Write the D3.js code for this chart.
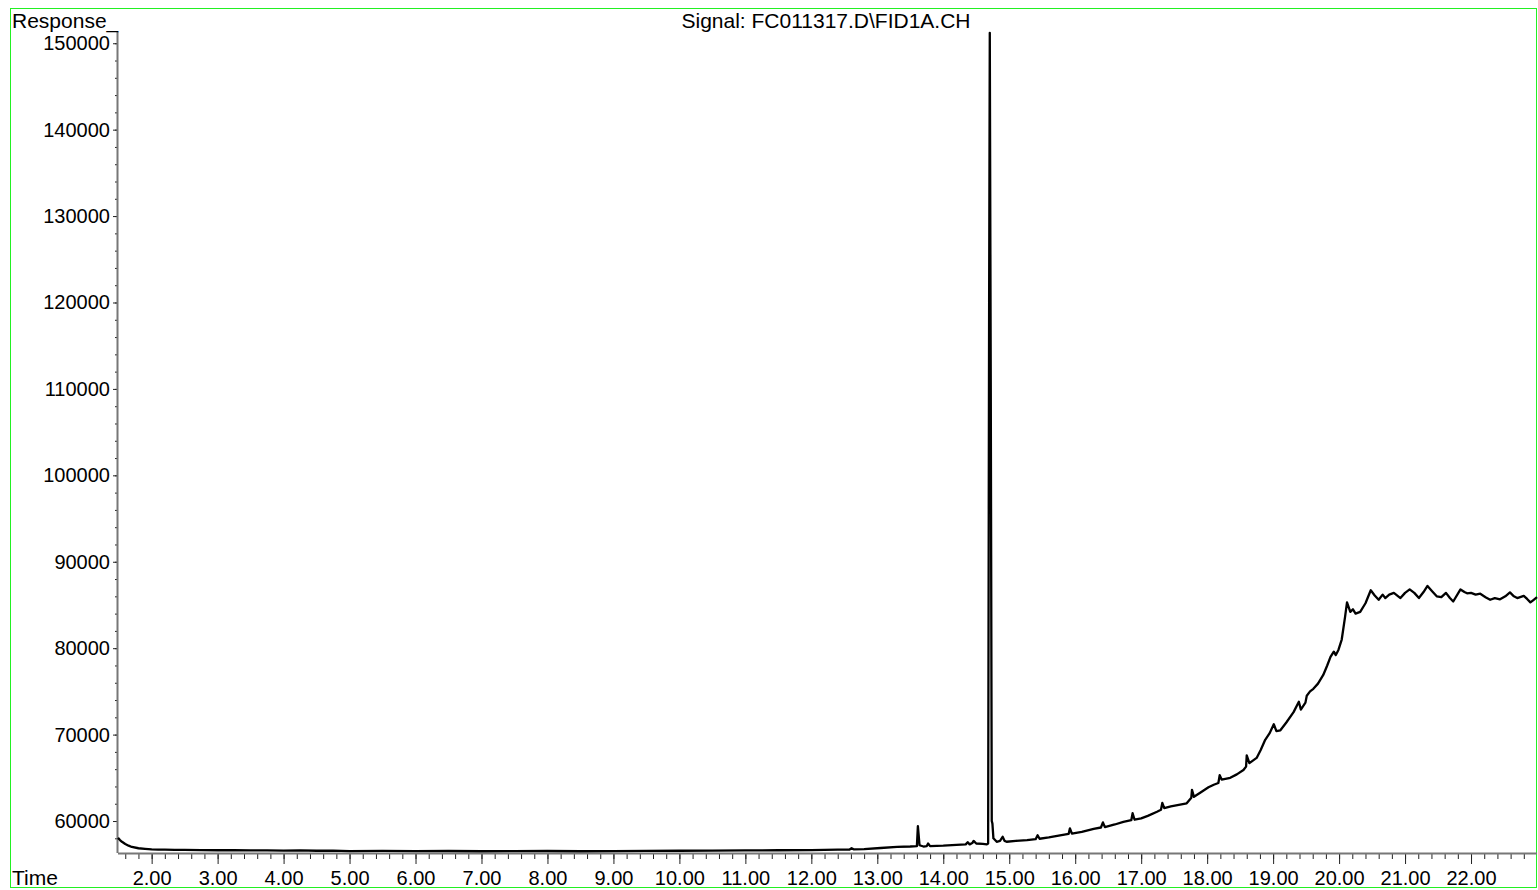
<!DOCTYPE html>
<html>
<head>
<meta charset="utf-8">
<script src="https://cdn.jsdelivr.net/npm/d3@7"></script>
<style>
body { margin: 0; background: #fff; }
text { font-family: "Liberation Sans", Arial, sans-serif; }
</style>
</head>
<body>
<div class="chart"></div>
<script>
var width = 1538;
var height = 890;

// chromatogram: retention time (min) and detector response
var times = [
  1.49, 1.52, 1.55, 1.60, 1.65, 1.70, 1.80, 1.90, 2.00, 2.10, 2.20, 2.35, 2.50, 2.75, 3.00, 3.25, 3.50, 3.75,
  4.00, 4.25, 4.50, 4.75, 5.00, 5.50, 6.00, 6.50, 7.00, 7.50, 8.00, 8.50, 9.00, 9.50, 10.00, 10.50,
  11.00, 11.50, 12.00, 12.40, 12.58, 12.61, 12.64, 12.80, 13.05, 13.30, 13.50, 13.60, 13.615, 13.64,
  13.70, 13.75, 13.77, 13.80, 14.00, 14.20, 14.34, 14.37, 14.40, 14.44, 14.46, 14.50, 14.60, 14.66,
  14.68, 14.695, 14.705, 14.72, 14.735, 14.745, 14.76, 14.81, 14.86, 14.90, 14.93, 14.96, 15.10,
  15.27, 15.40, 15.43, 15.46, 15.60, 15.77, 15.90, 15.92, 15.95, 16.10, 16.28, 16.39, 16.42, 16.45,
  16.60, 16.73, 16.85, 16.87, 16.90, 17.00, 17.10, 17.24, 17.30, 17.32, 17.35, 17.45, 17.55, 17.69,
  17.76, 17.77, 17.80, 17.90, 18.02, 18.10, 18.17, 18.19, 18.22, 18.35, 18.45, 18.55, 18.59, 18.60,
  18.64, 18.75, 18.81, 18.88, 18.95, 19.01, 19.05, 19.11, 19.20, 19.31, 19.39, 19.42, 19.49, 19.51,
  19.56, 19.61, 19.68, 19.76, 19.82, 19.87, 19.92, 19.95, 19.99, 20.04, 20.09, 20.12, 20.17, 20.21,
  20.25, 20.32, 20.40, 20.48, 20.54, 20.60, 20.66, 20.70, 20.76, 20.83, 20.93, 21.00, 21.07, 21.14,
  21.21, 21.28, 21.34, 21.41, 21.48, 21.55, 21.62, 21.68, 21.73, 21.84, 21.90, 21.94, 22.00, 22.07,
  22.14, 22.22, 22.29, 22.36, 22.44, 22.52, 22.59, 22.65, 22.70, 22.80, 22.85, 22.90, 22.95, 23.00
];
var response = [
  58050, 57800, 57600, 57350, 57150, 57000, 56850, 56780, 56720, 56700, 56680, 56660, 56650, 56640, 56620, 56640, 56600, 56610,
  56580, 56600, 56560, 56570, 56520, 56540, 56510, 56530, 56500, 56520, 56530, 56500, 56520, 56550, 56560, 56580,
  56600, 56620, 56640, 56680, 56700, 56850, 56720, 56760, 56880, 57000, 57050, 57100, 59400, 57200,
  57050, 57100, 57400, 57100, 57150, 57250, 57300, 57550, 57300, 57450, 57700, 57400, 57350, 57300,
  57400, 120000, 151200, 110000, 60000, 59700, 58000, 57600, 57700, 58180, 57700, 57600, 57700,
  57800, 57900, 58350, 57950, 58100, 58350, 58500, 59150, 58550, 58750, 59100, 59250, 59850, 59300,
  59600, 59900, 60100, 60900, 60150, 60300, 60600, 61080, 61300, 62100, 61500, 61700, 61850, 62050,
  62700, 63600, 62800, 63300, 63900, 64200, 64400, 65300, 64800, 65000, 65400, 65900, 66300, 67600,
  66700, 67300, 68200, 69400, 70200, 71200, 70400, 70500, 71400, 72600, 73800, 72900, 73700, 74500,
  75000, 75300, 75900, 76900, 78000, 79000, 79600, 79200, 79800, 81000, 83600, 85300, 84200, 84500,
  84000, 84200, 85200, 86700, 86100, 85600, 86200, 85800, 86200, 86400, 85800, 86400, 86800, 86400,
  85800, 86500, 87200, 86600, 86000, 85900, 86400, 85800, 85400, 86800, 86500, 86350, 86400, 86200,
  86300, 85900, 85600, 85800, 85650, 86000, 86450, 86000, 85800, 86050, 85700, 85300, 85600, 85900
];

var yMajor = [60000, 70000, 80000, 90000, 100000, 110000, 120000, 130000, 140000, 150000];
var xMajor = [2, 3, 4, 5, 6, 7, 8, 9, 10, 11, 12, 13, 14, 15, 16, 17, 18, 19, 20, 21, 22];

var titleText = "Signal: FC011317.D\\FID1A.CH";
var yLabel = "Response_";
var xLabel = "Time";

var svg = d3.select(".chart").append("svg")
  .attr("width", width)
  .attr("height", height);

// green frame
svg.append("rect")
  .attr("x", 10.5)
  .attr("y", 8.5)
  .attr("width", 1526)
  .attr("height", 879)
  .attr("fill", "none")
  .attr("stroke", "#22f022")
  .attr("stroke-width", 1);

var x = d3.scaleLinear().domain([1.49, 23.0]).range([118, 1537]);
var y = d3.scaleLinear().domain([56300, 151300]).range([853, 32]);

var xMinor = d3.range(16, 231, 2).map(function(d) { return d / 10; })
  .filter(function(d) { return d > 1.49 && d < 23.0; });
var yMinor = d3.range(58000, 151001, 2000);

// y axis
var gy = svg.append("g").attr("transform", "translate(118,0)");
gy.call(d3.axisLeft(y).tickValues(yMinor).tickSize(3).tickFormat(""))
  .select(".domain").remove();
gy.append("g").call(d3.axisLeft(y).tickValues(yMajor).tickSize(5).tickPadding(3).tickFormat(d3.format("d")))
  .call(function(g) { g.select(".domain").remove(); })
  .selectAll("text")
  .attr("font-size", "20px")
  .attr("font-family", "Liberation Sans, Arial, sans-serif")
  .attr("fill", "#000");
gy.selectAll(".tick line").attr("stroke", "#222");
gy.append("line")
  .attr("x1", -0.5).attr("x2", -0.5)
  .attr("y1", y(151300)).attr("y2", y(56300))
  .attr("stroke", "#777").attr("stroke-width", 2);

// x axis
var gx = svg.append("g").attr("transform", "translate(0,853)");
gx.call(d3.axisBottom(x).tickValues(xMinor).tickSize(6).tickFormat(""))
  .select(".domain").remove();
gx.append("g").call(d3.axisBottom(x).tickValues(xMajor).tickSize(11).tickPadding(7).tickFormat(d3.format(".2f")))
  .call(function(g) { g.select(".domain").remove(); })
  .selectAll("text")
  .attr("font-size", "20px")
  .attr("font-family", "Liberation Sans, Arial, sans-serif")
  .attr("fill", "#000");
gx.selectAll(".tick line").attr("stroke", "#222");
gx.append("line")
  .attr("x1", 118).attr("x2", 1537)
  .attr("y1", 0.5).attr("y2", 0.5)
  .attr("stroke", "#777").attr("stroke-width", 2);

// signal trace
var line = d3.line()
  .x(function(d, i) { return x(times[i]); })
  .y(function(d) { return y(d); });

svg.append("path")
  .datum(response)
  .attr("fill", "none")
  .attr("stroke", "#000")
  .attr("stroke-width", 2.3)
  .attr("stroke-linejoin", "round")
  .attr("d", line);

// labels
svg.append("text")
  .attr("x", 12).attr("y", 28)
  .attr("font-size", "21px")
  .text(yLabel);

svg.append("text")
  .attr("x", 826).attr("y", 28)
  .attr("text-anchor", "middle")
  .attr("font-size", "21px")
  .text(titleText);

svg.append("text")
  .attr("x", 12).attr("y", 885)
  .attr("font-size", "21px")
  .text(xLabel);
</script>
</body>
</html>
